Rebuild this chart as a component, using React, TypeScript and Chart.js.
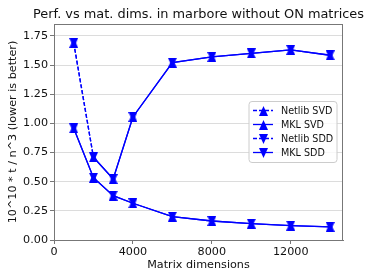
import React, { useEffect, useRef } from "react";
import { Chart, registerables } from "chart.js";

Chart.register(...registerables);

const matrixDims = [1000, 2000, 3000, 4000, 6000, 8000, 10000, 12000, 14000];
const netlibSVD = [1.69, 0.71, 0.523, 1.055, 1.52, 1.57, 1.6, 1.63, 1.584];
const netlibSDD = [1.69, 0.71, 0.523, 1.055, 1.52, 1.57, 1.6, 1.63, 1.584];
const mklSVD = [0.958, 0.534, 0.38, 0.315, 0.2, 0.163, 0.14, 0.123, 0.112];
const mklSDD = [0.958, 0.534, 0.38, 0.315, 0.2, 0.163, 0.14, 0.123, 0.112];
const seriesLabels = ["Netlib SVD", "MKL SVD", "Netlib SDD", "MKL SDD"];
const xTickValues = [0, 4000, 8000, 12000];
const yTickValues = [0, 0.25, 0.5, 0.75, 1.0, 1.25, 1.5, 1.75];
const titleText = "Perf. vs mat. dims. in marbore without ON matrices";
const xTitle = "Matrix dimensions";
const yTitle = "10^10 * t / n^3 (lower is better)";

const FONT = "'DejaVu Sans', sans-serif";
const BLUE = "#0000ff";
const BASE = 11.2;

function makeTriangle(down: boolean): HTMLCanvasElement {
  const w = 9;
  const h = 10;
  const c = document.createElement("canvas");
  c.width = w;
  c.height = h;
  const ctx = c.getContext("2d")!;
  ctx.fillStyle = BLUE;
  ctx.beginPath();
  if (down) {
    ctx.moveTo(0, 0);
    ctx.lineTo(w, 0);
    ctx.lineTo(w / 2, h);
  } else {
    ctx.moveTo(w / 2, 0);
    ctx.lineTo(w, h);
    ctx.lineTo(0, h);
  }
  ctx.closePath();
  ctx.fill();
  return c;
}

const framePlugin = {
  id: "frame",
  afterDatasetsDraw(chart: any) {
    const { ctx, chartArea } = chart;
    ctx.save();
    ctx.strokeStyle = "#777";
    ctx.lineWidth = 1;
    ctx.strokeRect(chartArea.left + 0.5, chartArea.top + 0.5, chartArea.right - chartArea.left - 1, chartArea.bottom - chartArea.top);
    ctx.restore();
  },
  afterDraw(chart: any) {
    const { ctx, chartArea } = chart;
    ctx.save();
    // title
    ctx.fillStyle = "#111";
    ctx.font = `12.9px ${FONT}`;
    ctx.textAlign = "center";
    ctx.textBaseline = "middle";
    ctx.fillText(titleText, (chartArea.left + chartArea.right) / 2, 15);
    // legend
    const w = 88;
    const h = 61;
    const bx = chartArea.right - 6 - w;
    const by = (chartArea.top + chartArea.bottom) / 2 - h / 2;
    ctx.beginPath();
    const r = 3;
    ctx.moveTo(bx + r, by);
    ctx.arcTo(bx + w, by, bx + w, by + h, r);
    ctx.arcTo(bx + w, by + h, bx, by + h, r);
    ctx.arcTo(bx, by + h, bx, by, r);
    ctx.arcTo(bx, by, bx + w, by, r);
    ctx.closePath();
    ctx.fillStyle = "rgba(255,255,255,0.8)";
    ctx.fill();
    ctx.strokeStyle = "#cccccc";
    ctx.lineWidth = 1;
    ctx.stroke();
    chart.data.datasets.forEach((ds: any, i: number) => {
      const y = by + 9 + i * 14;
      ctx.strokeStyle = BLUE;
      ctx.lineWidth = 1.3;
      ctx.setLineDash(ds.legendDash || []);
      ctx.beginPath();
      ctx.moveTo(bx + 4, y);
      ctx.lineTo(bx + 24, y);
      ctx.stroke();
      ctx.setLineDash([]);
      const img = ds.pointStyle as HTMLCanvasElement;
      ctx.drawImage(img, Math.round(bx + 14 - img.width / 2), Math.round(y - img.height / 2));
      ctx.fillStyle = "#111";
      ctx.font = `9.6px ${FONT}`;
      ctx.textBaseline = "middle";
      ctx.textAlign = "left";
      ctx.fillText(ds.label, bx + 32, y + 0.5);
    });
    ctx.restore();
  },
};

export default function App() {
  const ref = useRef<HTMLCanvasElement | null>(null);
  useEffect(() => {
    if (!ref.current) return;
    const upTri = makeTriangle(false);
    const downTri = makeTriangle(true);
    const toPts = (vals: number[]) => matrixDims.map((x, i) => ({ x, y: vals[i] }));
    const dashFirst = { borderDash: (c: any) => (c.p0DataIndex === 0 ? [4, 2] : []) };
    const mk = (label: string, vals: number[], down: boolean, dashed: boolean) => ({
      label,
      data: toPts(vals),
      borderColor: BLUE,
      backgroundColor: BLUE,
      borderWidth: 1.3,
      pointStyle: down ? downTri : upTri,
      pointRadius: 5,
      pointBorderWidth: 0,
      pointBackgroundColor: BLUE,
      legendDash: dashed ? [4, 2] : [],
      segment: dashed ? dashFirst : undefined,
      tension: 0,
    });
    const chart = new Chart(ref.current, {
      type: "line",
      data: {
        datasets: [
          mk(seriesLabels[0], netlibSVD, false, true),
          mk(seriesLabels[1], mklSVD, false, false),
          mk(seriesLabels[2], netlibSDD, true, true),
          mk(seriesLabels[3], mklSDD, true, false),
        ] as any,
      },
      options: {
        animation: false,
        responsive: true,
        maintainAspectRatio: false,
        layout: { padding: { left: 0, right: 31, top: 24, bottom: 0 } },
        plugins: {
          legend: { display: false },
          tooltip: { enabled: false },
          title: { display: false },
        },
        scales: {
          x: {
            type: "linear",
            min: 0,
            max: 14650,
            afterFit: (s: any) => {
              s.height = 40;
            },
            afterBuildTicks: (s: any) => {
              s.ticks = xTickValues.map((v) => ({ value: v }));
            },
            ticks: {
              color: "#111",
              padding: 1,
              maxRotation: 0,
              autoSkip: false,
              font: { family: FONT, size: BASE },
              callback: (v: any) => String(v),
            },
            grid: { color: "transparent", tickColor: "#777", tickLength: 4 },
            border: { color: "#777", width: 1 },
            title: {
              display: true,
              text: xTitle,
              color: "#111",
              font: { family: FONT, size: BASE },
              padding: { top: 0, bottom: 8.3 },
            },
          },
          y: {
            type: "linear",
            min: 0,
            max: 1.852,
            afterFit: (s: any) => {
              s.width = 54;
            },
            afterBuildTicks: (s: any) => {
              s.ticks = yTickValues.map((v) => ({ value: v }));
            },
            ticks: {
              color: "#111",
              padding: 2,
              autoSkip: false,
              font: { family: FONT, size: BASE },
              callback: (v: any) => Number(v).toFixed(2),
            },
            grid: { color: "#dcdcdc", tickColor: "#777", tickLength: 4, lineWidth: 1 },
            border: { color: "#777", width: 1 },
            title: {
              display: true,
              text: yTitle,
              color: "#111",
              font: { family: FONT, size: BASE },
              padding: { top: 6.3, bottom: 0 },
            },
          },
        },
      } as any,
      plugins: [framePlugin],
    });
    return () => chart.destroy();
  }, []);
  return (
    <div style={{ position: "fixed", left: 0, top: 0, width: 374, height: 280, background: "#fff" }}>
      <canvas ref={ref} />
    </div>
  );
}
